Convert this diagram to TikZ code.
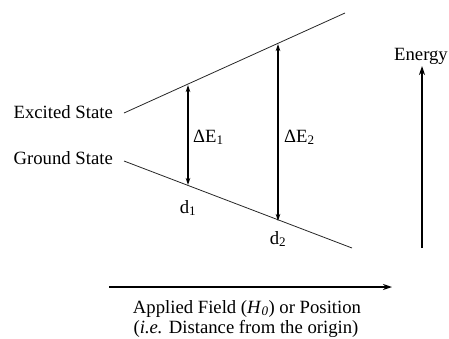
\documentclass[tikz,border=0pt]{standalone}
\usepackage{fontspec}
\setmainfont{Liberation Serif}
\usetikzlibrary{arrows.meta}
\begin{document}
\begin{tikzpicture}[x=1pt,y=-1pt,
  lbl/.style={inner sep=0pt,font=\fontsize{18.7}{21}\selectfont},
  level/.style={line width=0.8pt,draw=black!85},
  gap/.style={{Stealth[length=7pt,width=4.5pt]}-{Stealth[length=7pt,width=4.5pt]}},
  axis/.style={line width=2.2pt,-{Stealth[length=9pt,width=6pt]}}]
\useasboundingbox (0,0) rectangle (449,338);
% level lines
\coordinate (exA) at (124,113);
\coordinate (exB) at (345,13);
\coordinate (grA) at (124,161);
\coordinate (grB) at (352,248);
\draw[level] (exA) -- (exB);
\draw[level] (grA) -- (grB);
% labels
\node[lbl,anchor=base east] (exc) at (113,118) {Excited State};
\node[lbl,anchor=base east] (gnd) at (113,164) {Ground State};
% energy gaps
\coordinate (t1) at (188,85);
\coordinate (b1) at (188,185);
\coordinate (t2) at (278,44);
\coordinate (b2) at (278,221);
\draw[gap,line width=1.1pt] (b1) -- (t1);
\draw[gap,line width=1.8pt] (b2) -- (t2);
\node[lbl,anchor=base west] (dE1) at (193,142) {ΔE\textsubscript{1}};
\node[lbl,anchor=base west] (dE2) at (284,142) {ΔE\textsubscript{2}};
\node[lbl,anchor=base] (d1) at (188,213) {d\textsubscript{1}};
\node[lbl,anchor=base] (d2) at (278,244) {d\textsubscript{2}};
% energy axis
\node[lbl,anchor=base] (en) at (421,60) {Energy};
\coordinate (e0) at (422,248);
\coordinate (e1) at (422,66);
\draw[axis] (e0) -- (e1);
% field axis
\coordinate (h0) at (109,287);
\coordinate (h1) at (392,287);
\draw[axis] (h0) -- (h1);
\node[lbl,anchor=base] (f1) at (247,313) {Applied Field (\textit{H}\textsubscript{\textit{0}}) or Position};
\node[lbl,anchor=base] (f2) at (246,333) {(\textit{i.e.} Distance from the origin)};
\end{tikzpicture}
\end{document}
